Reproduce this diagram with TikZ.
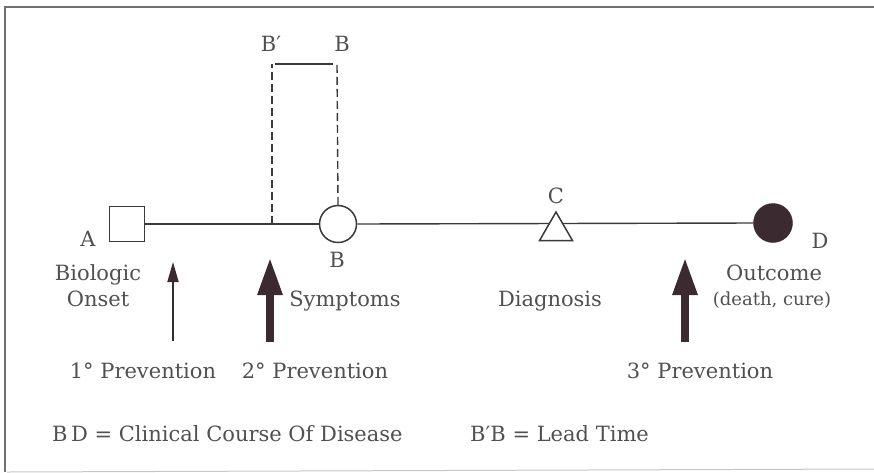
\documentclass[tikz,border=0pt]{standalone}
\usepackage{fontspec}
\setmainfont{DejaVu Serif}
\usetikzlibrary{arrows.meta,shapes.geometric,backgrounds}
\definecolor{ink}{HTML}{3A3A3A}
\definecolor{txt}{HTML}{505050}
\definecolor{arr}{HTML}{3B2A2F}
\definecolor{frm}{HTML}{707070}
\begin{document}
\begin{tikzpicture}[x=1pt,y=-1pt,
  lbl/.style={text=txt,font=\fontsize{21}{23}\selectfont,inner sep=0pt,anchor=base},
  small/.style={text=txt,font=\fontsize{18}{20}\selectfont,inner sep=0pt,anchor=base},
  mainline/.style={draw=ink,line width=1.4pt},
  dashline/.style={draw=ink,line width=1.4pt,dash pattern=on 8pt off 4pt},
  thickarrow/.style={draw=arr,line width=8.5pt,-{Triangle[length=38pt,width=23pt]}},
  thinarrow/.style={draw=arr,line width=1.8pt,-{Triangle[length=20pt,width=11pt]}}]
\useasboundingbox (0,0) rectangle (874,472);
% frame
\coordinate (f1) at (5,7);
\coordinate (f2) at (874,7);
\coordinate (f3) at (7,472);
\coordinate (f4) at (874,469);
\draw[frm,line width=1.6pt] (f2) -- (f1) -- (f1 |- f3);
\draw[frm!40,line width=1pt] (f3) -- (f4);
% markers
\node[draw=ink,line width=1.6pt,fill=white,minimum size=35pt,inner sep=0pt] (sqA) at (127,224) {};
\node[draw=ink,line width=1.5pt,fill=white,circle,minimum size=37pt,inner sep=0pt] (cirB) at (338,224) {};
\node[draw=ink,line width=1.5pt,fill=white,regular polygon,regular polygon sides=3,minimum size=38pt,inner sep=0pt] (triC) at (556,231) {};
\node[draw=arr,fill=arr,circle,minimum size=39pt,inner sep=0pt] (cirD) at (773,223) {};
\begin{scope}[on background layer]
\draw[mainline] (sqA.east) -- (cirB.west);
\draw[mainline] (cirB.east) -- (cirD.west);
\end{scope}
% lead time bracket
\coordinate (bp) at (272,224);
\coordinate (bpt) at (272,64);
\coordinate (bt) at (337,64);
\coordinate (bpt2) at (275,64);
\coordinate (bt2) at (333,64);
\draw[dashline] (bp) -- (bpt);
\draw[dashline] (cirB.north) -- (bt);
\draw[mainline] (bpt2) -- (bt2);
% letters
\node[lbl] (lA) at (88,246) {A};
\node[lbl] (lBp) at (271,51) {B′};
\node[lbl] (lBt) at (342,51) {B};
\node[lbl] (lB) at (337,267) {B};
\node[lbl] (lC) at (556,203) {C};
\node[lbl] (lD) at (820,248) {D};
% captions
\node[lbl] (onset1) at (98,280) {Biologic};
\node[lbl] (onset2) at (98,306) {Onset};
\node[lbl] (symp) at (345,306) {Symptoms};
\node[lbl] (diag) at (550,306) {Diagnosis};
\node[lbl] (outc) at (774,280) {Outcome};
\node[small] (dc) at (772,305) {(death, cure)};
% arrows
\coordinate (a1s) at (173,341);
\coordinate (a1e) at (173,262);
\coordinate (a2s) at (270,342);
\coordinate (a2e) at (270,257);
\coordinate (a3s) at (685,342);
\coordinate (a3e) at (685,257);
\draw[thinarrow] (a1s) -- (a1e);
\draw[thickarrow] (a2s) -- (a2e);
\draw[thickarrow] (a3s) -- (a3e);
\node[lbl] (p1) at (143,378) {1° Prevention};
\node[lbl] (p2) at (315,378) {2° Prevention};
\node[lbl] (p3) at (700,378) {3° Prevention};
\node[lbl,anchor=base west] (bd) at (52,441) {B\,D = Clinical Course Of Disease};
\node[lbl,anchor=base west] (bb) at (470,441) {B′B = Lead Time};
\end{tikzpicture}
\end{document}
